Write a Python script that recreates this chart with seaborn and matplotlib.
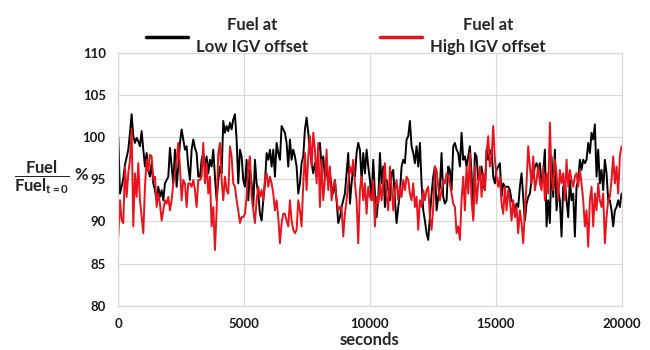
import numpy as np
import pandas as pd
import matplotlib
matplotlib.use("Agg")
import matplotlib.pyplot as plt
import seaborn as sns

# Fuel flow relative to t=0 (%), sampled evenly over 0..20000 s
BLACK_A = [100.0, 93.3, 94.1, 95.1, 96.7, 97.6, 98.5, 100.5, 102.7, 100.1,
           99.3, 99.9, 99.5, 98.9, 100.7, 98.5, 96.5, 98.1, 96.1, 95.3,
           96.9, 94.5, 93.7, 92.5, 94.1, 92.9, 93.7, 92.5, 94.5, 94.9,
           95.3, 98.7, 96.5, 94.5, 98.5, 94.1, 96.5, 99.3, 100.9, 99.7,
           98.5, 98.9, 96.5, 94.9, 98.5, 99.7, 98.7, 98.1, 95.3, 95.3]
BLACK_B = [97.3, 98.1, 96.5, 97.7, 95.7, 97.3, 96.5, 98.5, 95.3, 92.5,
           94.9, 96.5, 95.7, 101.9, 100.5, 101.3, 100.7, 101.7, 100.9, 102.1,
           102.7, 99.7, 94.5, 98.5, 97.7, 94.9, 94.1, 97.3, 92.5, 96.1,
           94.5, 91.7, 97.3, 94.5, 93.3, 90.9, 90.1, 92.5, 94.5, 98.1,
           97.3, 98.5, 96.5, 98.5, 95.3, 99.3, 98.1, 97.3, 101.3, 100.9,
           100.5]
BLACK_C = [99.3, 96.5, 99.7, 97.3, 98.5, 97.7, 96.5, 93.3, 94.5, 96.9,
           97.7, 100.9, 102.3, 100.5, 98.5, 96.9, 95.7, 96.9, 95.3, 98.5,
           99.3, 96.5, 97.7, 95.3, 96.1, 94.5, 95.7, 94.1, 93.3, 94.9,
           92.5, 89.8, 90.5, 91.7, 92.5, 93.3, 95.7, 98.1, 92.1, 94.5,
           96.5, 95.3, 98.1, 99.3, 98.5, 94.9, 98.1, 95.7, 98.5, 96.5,
           94.9]
BLACK_D = [92.5, 97.3, 93.3, 90.5, 92.5, 98.1, 94.5, 96.5, 91.7, 94.9,
           93.7, 92.5, 95.7, 96.1, 92.5, 89.8, 91.7, 93.3, 96.5, 97.3,
           96.9, 99.7, 100.1, 101.9, 98.9, 98.1, 96.9, 98.9, 96.5, 99.3,
           94.5, 91.3, 90.1, 88.6, 87.8, 90.5, 93.3, 95.3, 96.5, 91.3,
           92.9, 94.1, 98.1, 92.9, 92.1, 92.5, 96.5, 96.1, 93.7, 98.9,
           99.3]
BLACK_E = [98.5, 98.1, 96.5, 100.5, 97.3, 97.7, 96.5, 97.7, 98.9, 95.7,
           90.5, 98.1, 97.7, 94.9, 95.7, 96.5, 94.5, 93.7, 98.5, 97.3,
           98.1, 98.5, 95.3, 94.5, 96.1, 96.5, 96.9, 92.9, 94.5, 94.1,
           94.1, 94.1, 93.7, 92.5, 92.1, 91.3, 92.1, 91.7, 94.1, 95.7,
           92.9, 90.1, 92.1, 92.9, 93.3, 94.9, 95.3, 96.5, 96.9, 96.1,
           96.9]
BLACK_F = [94.5, 95.7, 98.5, 89.4, 92.5, 89.8, 97.7, 92.9, 98.5, 91.3,
           93.7, 92.5, 88.2, 94.1, 94.5, 92.5, 90.5, 94.9, 92.5, 93.3,
           88.2, 94.1, 94.9, 97.3, 96.1, 97.3, 96.9, 97.3, 99.3, 98.1,
           100.5, 99.7, 101.5, 95.3, 98.5, 94.5, 96.1, 93.7, 97.3, 95.7,
           92.5, 92.5, 91.3, 89.4, 91.3, 91.7, 92.5, 91.7, 93.3]

RED_A = [88.2, 92.5, 90.1, 89.8, 96.5, 92.9, 95.7, 97.3, 100.9, 89.4,
         95.7, 92.9, 96.9, 92.5, 90.5, 88.6, 94.1, 97.3, 95.9, 97.9,
         97.7, 94.9, 95.3, 91.7, 93.3, 92.1, 90.1, 91.3, 92.5, 92.1,
         92.9, 91.3, 92.5, 94.5, 95.7, 97.3, 99.3, 96.5, 92.5, 94.9,
         94.5, 91.7, 94.5, 94.5, 94.1, 94.9, 93.7, 91.7, 94.9, 94.9]
RED_B = [95.3, 99.3, 94.5, 96.9, 93.3, 95.3, 89.4, 91.7, 86.6, 91.3,
         98.1, 99.3, 94.9, 92.5, 95.3, 93.7, 93.3, 98.9, 97.7, 94.5,
         94.1, 92.5, 91.3, 89.8, 90.5, 90.5, 90.9, 92.9, 96.5, 97.7,
         92.9, 91.3, 89.8, 92.5, 94.1, 92.9, 93.7, 92.5, 94.9, 95.7,
         94.1, 95.3, 94.5, 93.3, 91.3, 92.5, 90.5, 87.4, 89.8, 90.9,
         90.9]
RED_C = [90.1, 89.4, 92.5, 90.1, 89.0, 88.6, 89.0, 92.5, 91.3, 89.4,
         94.5, 98.1, 93.7, 97.7, 100.1, 96.5, 100.5, 98.5, 94.5, 99.3,
         91.7, 97.3, 92.5, 94.9, 98.5, 93.7, 96.5, 92.5, 94.1, 94.9,
         92.5, 91.3, 91.7, 91.7, 88.2, 90.9, 92.5, 94.5, 96.5, 95.7,
         97.3, 94.5, 92.5, 87.4, 93.7, 95.3, 92.5, 94.5, 90.9, 94.1,
         92.9]
RED_D = [92.5, 94.9, 89.4, 92.9, 92.1, 94.5, 92.5, 94.9, 96.9, 92.9,
         91.3, 96.5, 94.1, 91.3, 93.7, 94.9, 92.5, 94.1, 92.9, 94.9,
         93.7, 95.3, 94.9, 93.3, 92.5, 94.5, 91.7, 92.9, 89.0, 92.5,
         91.7, 93.7, 92.5, 93.7, 94.1, 90.5, 89.0, 91.7, 96.5, 96.1,
         94.1, 92.5, 93.7, 94.9, 94.5, 95.7, 95.3, 94.5, 93.3, 92.1,
         91.7]
RED_E = [88.6, 89.4, 87.8, 92.5, 95.3, 91.3, 96.5, 93.3, 98.1, 92.5,
         90.1, 96.5, 92.1, 94.5, 96.5, 92.9, 95.7, 93.7, 98.1, 100.1,
         96.5, 97.7, 101.3, 97.3, 95.3, 94.1, 95.3, 92.1, 90.9, 94.1,
         91.3, 93.7, 92.5, 90.1, 92.5, 90.5, 91.7, 88.6, 91.3, 89.8,
         87.4, 91.3, 94.5, 98.9, 96.5, 94.5, 97.7, 93.7, 94.9, 96.5,
         94.5]
RED_F = [93.7, 96.5, 92.5, 95.7, 93.3, 101.7, 95.3, 93.7, 97.3, 95.7,
         92.5, 96.1, 94.5, 95.7, 92.5, 97.3, 94.1, 96.1, 94.9, 94.1,
         95.3, 95.7, 94.1, 96.1, 94.5, 92.5, 89.4, 91.3, 87.0, 92.5,
         94.1, 89.4, 93.3, 91.3, 94.5, 92.5, 91.7, 93.3, 87.4, 90.5,
         92.5, 92.9, 94.9, 97.7, 94.5, 96.5, 93.3, 97.7, 98.9]

SERIES_LABELS = ["Fuel at\nLow IGV offset", "Fuel at\nHigh IGV offset"]
SERIES_COLORS = ["#000000", "#e8131c"]
X_TICKS = [0, 5000, 10000, 15000, 20000]
Y_TICKS = [80, 85, 90, 95, 100, 105, 110]
T_END = 20000

low = BLACK_A + BLACK_B + BLACK_C + BLACK_D + BLACK_E + BLACK_F
high = RED_A + RED_B + RED_C + RED_D + RED_E + RED_F

frames = []
for label, vals in zip(SERIES_LABELS, [low, high]):
    t = np.linspace(0, T_END, len(vals))
    frames.append(pd.DataFrame({"seconds": t, "fuel": vals, "series": label}))
df = pd.concat(frames, ignore_index=True)

sns.set_theme(style="whitegrid")
plt.rcParams["font.family"] = ["Lato", "DejaVu Sans"]
plt.rcParams["mathtext.fontset"] = "custom"
plt.rcParams["mathtext.rm"] = "Lato"
plt.rcParams["mathtext.bf"] = "Lato:bold"
plt.rcParams["mathtext.it"] = "Lato:italic"

fig = plt.figure(figsize=(6.5, 3.5), dpi=100)
ax = fig.add_axes([0.182, 0.1266, 0.7742, 0.7229])

sns.lineplot(data=df, x="seconds", y="fuel", hue="series",
             hue_order=SERIES_LABELS, palette=SERIES_COLORS,
             estimator=None, sort=False, linewidth=1.4, ax=ax, legend=False)

ax.set_xlim(0, T_END)
ax.set_ylim(80, 110)
ax.set_xticks(X_TICKS)
ax.set_yticks(Y_TICKS)
ax.set_xticklabels([str(v) for v in X_TICKS], fontweight="bold", fontsize=9.5)
ax.set_yticklabels([str(v) for v in Y_TICKS], fontweight="bold", fontsize=9.5)
ax.tick_params(axis="x", length=0, pad=9, colors="#1a1a1a")
ax.tick_params(axis="y", length=0, pad=9, colors="#1a1a1a")

ax.grid(True, color="#d9d9d9", linewidth=0.9)
for sp in ax.spines.values():
    sp.set_visible(True)
    sp.set_color("#d9d9d9")
    sp.set_linewidth(0.9)

ax.set_xlabel("seconds", fontweight="bold", fontsize=12, labelpad=1)
ax.set_ylabel(r"$\dfrac{\mathbf{Fuel}}{\mathbf{Fuel}_{\mathbf{t=0}}}$ %",
              rotation=0, fontsize=12, fontweight="bold", ha="center", va="center")
ax.yaxis.set_label_coords(-0.133, 0.51)

handles = ax.get_lines()[:2]
leg = fig.legend(handles, SERIES_LABELS, ncol=2, frameon=False,
                 loc="center", bbox_to_anchor=(0.532, 0.897),
                 prop={"weight": "bold", "size": 12},
                 handlelength=2.5, handletextpad=0.5, columnspacing=4.3)
for line in leg.get_lines():
    line.set_linewidth(2.5)
for txt in leg.get_texts():
    txt.set_multialignment("center")
    txt.set_linespacing(1.45)

fig.savefig("out.png", dpi=100)
